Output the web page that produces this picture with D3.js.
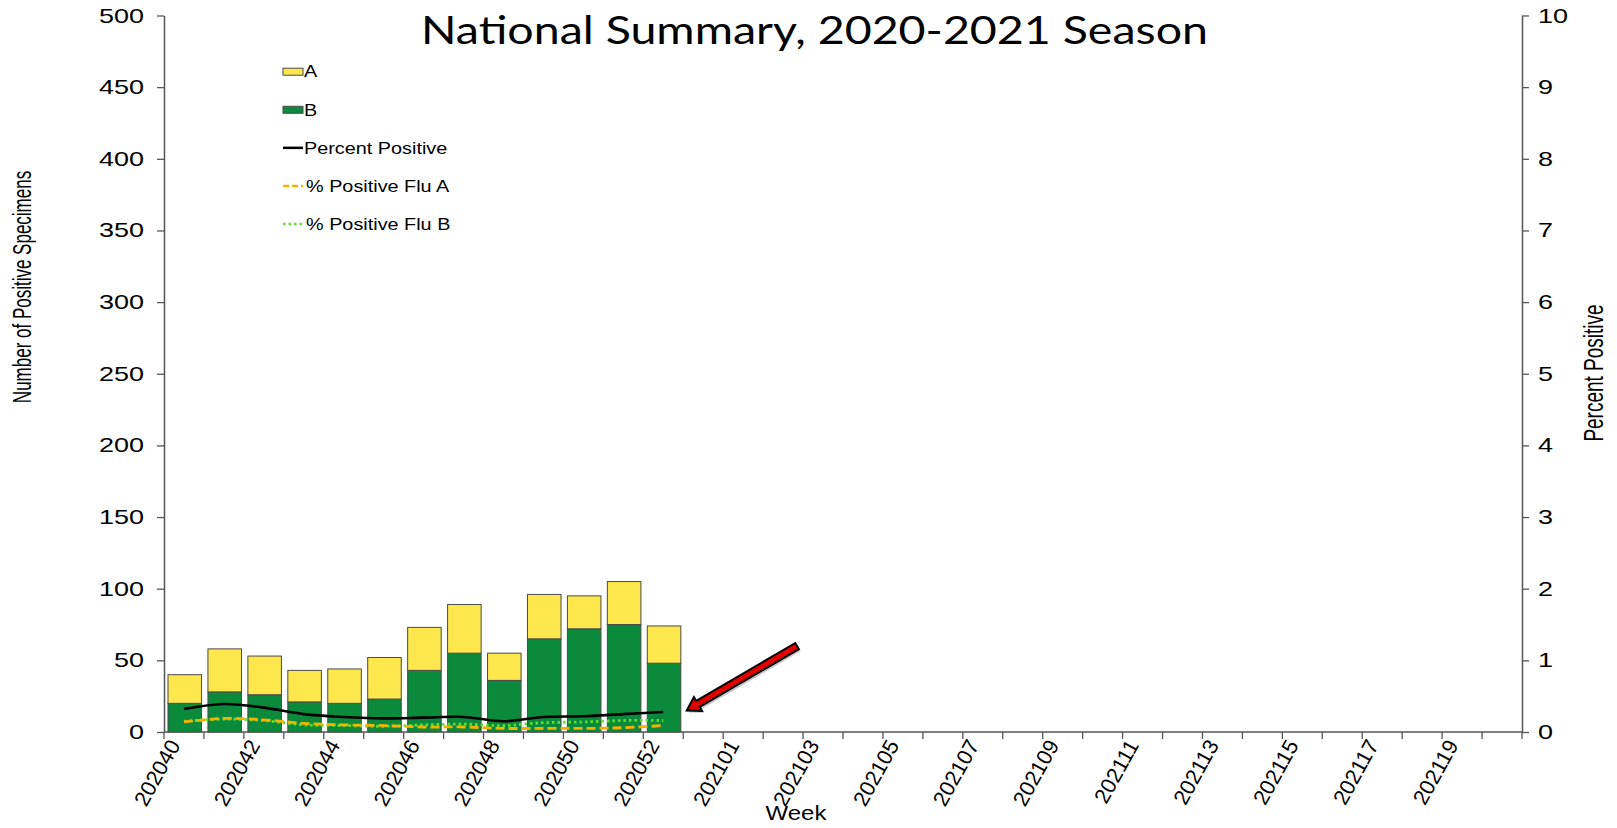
<!DOCTYPE html>
<html>
<head>
<meta charset="utf-8">
<script src="https://cdn.jsdelivr.net/npm/d3@7"></script>
<style>
  body { margin: 0; background: #fff; }
  text { font-family: "Liberation Sans", Arial, sans-serif; fill: #000; }
</style>
</head>
<body>
<div id="chart"></div>
<script>
// weeks on the x axis (2020 had a week 53)
const weeks = ["202040","202041","202042","202043","202044","202045","202046","202047","202048","202049",
  "202050","202051","202052","202053","202101","202102","202103","202104","202105","202106","202107",
  "202108","202109","202110","202111","202112","202113","202114","202115","202116","202117","202118",
  "202119","202120"];
const weekLabels = ["202040","202042","202044","202046","202048","202050","202052","202101","202103",
  "202105","202107","202109","202111","202113","202115","202117","202119"];

// positive specimens per week (only reported weeks)
const reportedWeeks = ["202040","202041","202042","202043","202044","202045","202046","202047","202048",
  "202049","202050","202051","202052"];
const fluB = [20, 28, 26, 21, 20, 23, 43, 55, 36, 65, 72, 75, 48];
const fluA = [20, 30, 27, 22, 24, 29, 30, 34, 19, 31, 23, 30, 26];

// percent positive (right axis)
const pctPositive = [0.32, 0.39, 0.34, 0.25, 0.21, 0.19, 0.20, 0.21, 0.15, 0.21, 0.22, 0.25, 0.28];
const pctFluA     = [0.14, 0.19, 0.17, 0.12, 0.10, 0.09, 0.07, 0.07, 0.05, 0.05, 0.05, 0.06, 0.09];
const pctFluB     = [0.15, 0.18, 0.16, 0.10, 0.09, 0.08, 0.10, 0.11, 0.09, 0.13, 0.14, 0.16, 0.16];

const leftTicks = [0, 50, 100, 150, 200, 250, 300, 350, 400, 450, 500];
const rightTicks = [0, 1, 2, 3, 4, 5, 6, 7, 8, 9, 10];
const legendLabels = ["A", "B", "Percent Positive", "% Positive Flu A", "% Positive Flu B"];

// arrow annotation: [week, specimens]
const arrowFrom = ["202103", 60];
const arrowTo = ["202053", 15];

const width = 1617, height = 828;
const plot = {left: 164, right: 1522, top: 15.5, bottom: 732};

const colA = "#FDE74C", colB = "#0A8A3A";
const colPct = "#000", colPctA = "#F5B300", colPctB = "#5FE030";

const svg = d3.select("#chart")
  .append("svg")
    .attr("width", width)
    .attr("height", height);

const x = d3.scaleBand().domain(weeks).range([plot.left, plot.right]);
const y = d3.scaleLinear().domain([0, 500]).range([plot.bottom, plot.top]);
const y2 = d3.scaleLinear().domain([0, 10]).range([plot.bottom, plot.top]);
const bw = x.bandwidth();

// title (second line of the original title)
svg.append("text")
  .attr("x", 814.5).attr("y", 44)
  .attr("text-anchor", "middle")
  .attr("textLength", 787).attr("lengthAdjust", "spacingAndGlyphs")
  .style("font-family", "Lato, 'Open Sans', sans-serif")
  .style("font-size", "38px")
  .text("National Summary, 2020-2021 Season");

// stacked bars
const rows = reportedWeeks.map((w, i) => ({week: w, B: fluB[i], A: fluA[i]}));
const stack = d3.stack().keys(["B", "A"])(rows);
const colors = {A: colA, B: colB};

svg.append("g")
  .selectAll("g")
  .data(stack)
  .join("g")
    .attr("fill", d => colors[d.key])
  .selectAll("rect")
  .data(d => d)
  .join("rect")
    .attr("x", d => x(d.data.week) + bw * 0.1)
    .attr("width", bw * 0.84)
    .attr("y", d => y(d[1]))
    .attr("height", d => y(d[0]) - y(d[1]))
    .attr("stroke", "#4a4a4a")
    .attr("stroke-width", 1);

// percent lines
const line = d3.line()
  .x((d, i) => x(reportedWeeks[i]) + bw / 2)
  .y(d => y2(d))
  .curve(d3.curveCatmullRom.alpha(0.5));

svg.append("path").datum(pctFluB)
  .attr("d", line).attr("fill", "none")
  .attr("stroke", colPctB).attr("stroke-width", 2.8)
  .attr("stroke-dasharray", "2.5,3");
svg.append("path").datum(pctFluA)
  .attr("d", line).attr("fill", "none")
  .attr("stroke", colPctA).attr("stroke-width", 2.8)
  .attr("stroke-dasharray", "9,4");
svg.append("path").datum(pctPositive)
  .attr("d", line).attr("fill", "none")
  .attr("stroke", colPct).attr("stroke-width", 2.6);

// axes
const axisCol = "#555";
const gl = svg.append("g")
  .attr("transform", `translate(${plot.left},0)`)
  .call(d3.axisLeft(y).tickValues(leftTicks).tickSize(7).tickSizeOuter(0).tickFormat(""));
const gr = svg.append("g")
  .attr("transform", `translate(${plot.right},0)`)
  .call(d3.axisRight(y2).tickValues(rightTicks).tickSize(7).tickSizeOuter(0).tickFormat(""));
[gl, gr].forEach(g => {
  g.select(".domain").attr("stroke", axisCol).attr("stroke-width", 1.5);
  g.selectAll(".tick line").attr("stroke", axisCol).attr("stroke-width", 1.3);
});

// left tick labels (stretched like the reference)
svg.append("g")
  .selectAll("text")
  .data(leftTicks)
  .join("text")
    .attr("transform", d => `translate(${plot.left - 20},${y(d)}) scale(1.35,1)`)
    .attr("dy", "0.35em")
    .attr("text-anchor", "end")
    .style("font-size", "20px")
    .text(d => d);

svg.append("g")
  .selectAll("text")
  .data(rightTicks)
  .join("text")
    .attr("transform", d => `translate(${plot.right + 16},${y2(d)}) scale(1.35,1)`)
    .attr("dy", "0.35em")
    .attr("text-anchor", "start")
    .style("font-size", "20px")
    .text(d => d);

// x axis line and ticks at category boundaries
svg.append("line")
  .attr("x1", plot.left).attr("x2", plot.right)
  .attr("y1", plot.bottom).attr("y2", plot.bottom)
  .attr("stroke", axisCol).attr("stroke-width", 1.5);
svg.append("g")
  .selectAll("line")
  .data(weeks.concat(["end"]))
  .join("line")
    .attr("x1", d => d === "end" ? plot.right : x(d))
    .attr("x2", d => d === "end" ? plot.right : x(d))
    .attr("y1", plot.bottom).attr("y2", plot.bottom + 7)
    .attr("stroke", axisCol).attr("stroke-width", 1.3);

svg.append("g")
  .selectAll("text")
  .data(weekLabels)
  .join("text")
    .attr("transform", d => `translate(${x(d) + bw / 2 - 3},${plot.bottom + 13}) rotate(-61)`)
    .attr("text-anchor", "end")
    .style("font-size", "21.5px")
    .text(d => d);

// axis titles
svg.append("text")
  .attr("transform", `translate(796,820) scale(1.2,1)`)
  .attr("text-anchor", "middle")
  .style("font-size", "20px")
  .text("Week");

svg.append("text")
  .attr("transform", "translate(31,287) rotate(-90) scale(1,1.5)")
  .attr("text-anchor", "middle")
  .style("font-size", "17px")
  .text("Number of Positive Specimens");

svg.append("text")
  .attr("transform", "translate(1603,373) rotate(-90) scale(1,1.45)")
  .attr("text-anchor", "middle")
  .style("font-size", "19px")
  .text("Percent Positive");

// legend
const legendY = d3.scalePoint().domain(legendLabels).range([71.7, 224]);
const lg = svg.append("g");
legendLabels.forEach((lab, i) => {
  const cy = legendY(lab);
  if (i < 2) {
    lg.append("rect")
      .attr("x", 283).attr("y", cy - 3.5)
      .attr("width", 20).attr("height", 7)
      .attr("fill", i === 0 ? colA : colB)
      .attr("stroke", "#4a4a4a").attr("stroke-width", 1);
  } else {
    const stroke = [colPct, colPctA, colPctB][i - 2];
    const dash = [null, "6,3", "2.5,3"][i - 2];
    lg.append("line")
      .attr("x1", 283).attr("x2", 303)
      .attr("y1", cy).attr("y2", cy)
      .attr("stroke", stroke).attr("stroke-width", 2.5)
      .attr("stroke-dasharray", dash);
  }
  lg.append("text")
    .attr("transform", `translate(${i < 3 ? 304 : 306},${cy}) scale(1.24,1)`)
    .attr("dy", "0.36em")
    .style("font-size", "16px")
    .text(lab);
});

// red arrow annotation
const tail = [x(arrowFrom[0]) - 6, y(arrowFrom[1])];
const tip = [x(arrowTo[0]) + 3.5, y(arrowTo[1])];
const dx = tip[0] - tail[0], dy = tip[1] - tail[1];
const len = Math.hypot(dx, dy);
const ux = dx / len, uy = dy / len, nx = -uy, ny = ux;
const sw = 3.5, hw = 8, hl = 13;
const base = [tip[0] - ux * hl, tip[1] - uy * hl];
const pts = [
  [tail[0] + nx * sw, tail[1] + ny * sw],
  [base[0] + nx * sw, base[1] + ny * sw],
  [base[0] + nx * hw, base[1] + ny * hw],
  tip,
  [base[0] - nx * hw, base[1] - ny * hw],
  [base[0] - nx * sw, base[1] - ny * sw],
  [tail[0] - nx * sw, tail[1] - ny * sw]
];
svg.append("polygon")
  .attr("points", pts.map(p => p.join(",")).join(" "))
  .attr("transform", "translate(2,2)")
  .attr("fill", "#888").attr("opacity", 0.5);
svg.append("polygon")
  .attr("points", pts.map(p => p.join(",")).join(" "))
  .attr("fill", "#E00000")
  .attr("stroke", "#000").attr("stroke-width", 2)
  .attr("stroke-linejoin", "miter");
</script>
</body>
</html>
